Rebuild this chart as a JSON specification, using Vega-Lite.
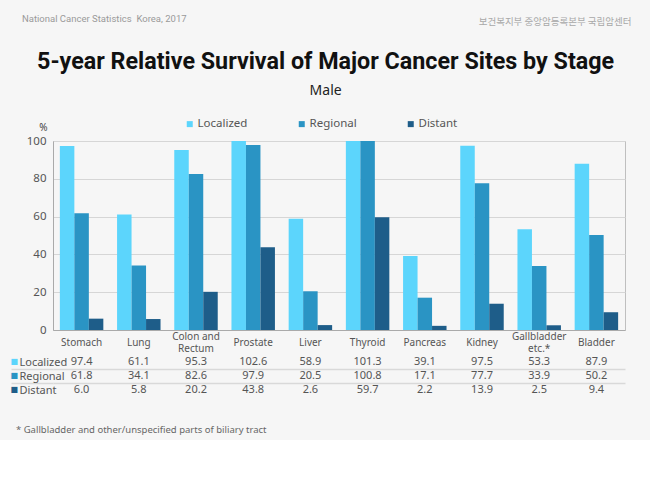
{
  "$schema": "https://vega.github.io/schema/vega-lite/v6.json",
  "background": "#f6f6f6",
  "padding": {"left": 10, "top": 13, "right": 20, "bottom": 5},
  "config": {
    "font": "Noto Sans",
    "view": {"stroke": "#bfbfbf"},
    "concat": {"spacing": 0}
  },
  "title": {
    "text": "보건복지부      중앙암등록본부      국립암센터",
    "anchor": "end",
    "frame": "bounds",
    "font": "Noto Sans CJK KR",
    "fontSize": 9.5,
    "fontWeight": "normal",
    "color": "#a8a8a8",
    "dx": 6,
    "dy": 13,
    "offset": 0
  },
  "datasets": {
    "surv": [
      {"site": "Stomach", "stage": "Localized", "value": 97.4},
      {"site": "Stomach", "stage": "Regional", "value": 61.8},
      {"site": "Stomach", "stage": "Distant", "value": 6.0},
      {"site": "Lung", "stage": "Localized", "value": 61.1},
      {"site": "Lung", "stage": "Regional", "value": 34.1},
      {"site": "Lung", "stage": "Distant", "value": 5.8},
      {"site": "Colon and Rectum", "stage": "Localized", "value": 95.3},
      {"site": "Colon and Rectum", "stage": "Regional", "value": 82.6},
      {"site": "Colon and Rectum", "stage": "Distant", "value": 20.2},
      {"site": "Prostate", "stage": "Localized", "value": 102.6},
      {"site": "Prostate", "stage": "Regional", "value": 97.9},
      {"site": "Prostate", "stage": "Distant", "value": 43.8},
      {"site": "Liver", "stage": "Localized", "value": 58.9},
      {"site": "Liver", "stage": "Regional", "value": 20.5},
      {"site": "Liver", "stage": "Distant", "value": 2.6},
      {"site": "Thyroid", "stage": "Localized", "value": 101.3},
      {"site": "Thyroid", "stage": "Regional", "value": 100.8},
      {"site": "Thyroid", "stage": "Distant", "value": 59.7},
      {"site": "Pancreas", "stage": "Localized", "value": 39.1},
      {"site": "Pancreas", "stage": "Regional", "value": 17.1},
      {"site": "Pancreas", "stage": "Distant", "value": 2.2},
      {"site": "Kidney", "stage": "Localized", "value": 97.5},
      {"site": "Kidney", "stage": "Regional", "value": 77.7},
      {"site": "Kidney", "stage": "Distant", "value": 13.9},
      {"site": "Gallbladder etc.*", "stage": "Localized", "value": 53.3},
      {"site": "Gallbladder etc.*", "stage": "Regional", "value": 33.9},
      {"site": "Gallbladder etc.*", "stage": "Distant", "value": 2.5},
      {"site": "Bladder", "stage": "Localized", "value": 87.9},
      {"site": "Bladder", "stage": "Regional", "value": 50.2},
      {"site": "Bladder", "stage": "Distant", "value": 9.4}
    ]
  },
  "vconcat": [
    {
      "title": {
        "text": "National Cancer Statistics\u2002Korea, 2017",
        "anchor": "start",
        "frame": "bounds",
        "font": "Roboto",
        "fontSize": 9.5,
        "fontWeight": "normal",
        "color": "#9a9a9a",
        "dx": 12,
        "offset": 26
      },
      "spacing": -5,
      "vconcat": [
        {
          "title": {
            "text": "5-year Relative Survival of Major Cancer Sites by Stage",
            "subtitle": "Male",
            "anchor": "middle",
            "frame": "bounds",
            "font": "Roboto",
            "fontSize": 23.3,
            "fontWeight": "bold",
            "color": "#111111",
            "subtitleFont": "Noto Sans",
            "subtitleFontSize": 14,
            "subtitleColor": "#222222",
            "subtitlePadding": 10,
            "offset": 23
          },
          "width": 572,
          "height": 189,
          "data": {"name": "surv"},
          "mark": {"type": "bar"},
          "encoding": {
            "x": {
              "field": "site",
              "type": "nominal",
              "sort": ["Stomach", "Lung", "Colon and Rectum", "Prostate", "Liver", "Thyroid", "Pancreas", "Kidney", "Gallbladder etc.*", "Bladder"],
              "scale": {"paddingInner": 0.24, "paddingOuter": 0.12},
              "axis": {
                "title": null,
                "labelAngle": 0,
                "ticks": false,
                "labelPadding": {"condition": {"test": "datum.value == 'Colon and Rectum' || datum.value == 'Gallbladder etc.*'", "value": 6}, "value": 12},
                "labelBaseline": "middle",
                "labelFontSize": 10,
                "labelLineHeight": 12,
                "labelColor": "#555555",
                "domainColor": "#aaaaaa",
                "labelExpr": "datum.label == 'Colon and Rectum' ? ['Colon and', 'Rectum'] : datum.label == 'Gallbladder etc.*' ? ['Gallbladder', 'etc.*'] : datum.label"
              }
            },
            "xOffset": {"field": "stage", "type": "nominal", "sort": ["Localized", "Regional", "Distant"]},
            "y": {
              "field": "value",
              "type": "quantitative",
              "scale": {"domain": [0, 100], "clamp": true},
              "axis": {
                "title": "%",
                "titleAngle": 0,
                "titleX": -10,
                "titleY": -14,
                "titleAlign": "center",
                "titleBaseline": "middle",
                "titleFontSize": 10,
                "titleFontWeight": "normal",
                "titleColor": "#444444",
                "values": [0, 20, 40, 60, 80, 100],
                "ticks": false,
                "labelPadding": 7,
                "labelFontSize": 11.5,
                "labelColor": "#555555",
                "gridColor": "#d6d6d6",
                "domainColor": "#aaaaaa"
              }
            },
            "color": {
              "field": "stage",
              "type": "nominal",
              "sort": ["Localized", "Regional", "Distant"],
              "scale": {"domain": ["Localized", "Regional", "Distant"], "range": ["#5cd5fc", "#2a94c4", "#1e5d89"]},
              "legend": {
                "title": null,
                "orient": "none",
                "legendX": 131,
                "legendY": -23,
                "direction": "horizontal",
                "symbolType": "square",
                "symbolSize": 36,
                "symbolStrokeWidth": 0,
                "labelFontSize": 11.5,
                "labelColor": "#555555",
                "labelOffset": 2,
                "columnPadding": 48,
                "padding": 0
              }
            }
          }
        },
        {
          "title": {
            "text": "* Gallbladder and other/unspecified parts of biliary tract",
            "orient": "bottom",
            "anchor": "start",
            "frame": "bounds",
            "fontSize": 9.5,
            "fontWeight": "normal",
            "color": "#666666",
            "dx": 6,
            "offset": 28
          },
          "width": 572,
          "height": 42,
          "view": {"stroke": null},
          "data": {"name": "surv"},
          "resolve": {"axis": {"y": "independent"}},
          "layer": [
            {
              "mark": {"type": "text", "fontSize": 11, "color": "#555555"},
              "encoding": {
                "x": {
                  "field": "site",
                  "type": "nominal",
                  "sort": ["Stomach", "Lung", "Colon and Rectum", "Prostate", "Liver", "Thyroid", "Pancreas", "Kidney", "Gallbladder etc.*", "Bladder"],
                  "axis": null
                },
                "y": {
                  "field": "stage",
                  "type": "nominal",
                  "sort": ["Localized", "Regional", "Distant"],
                  "scale": {"type": "band", "paddingInner": 0, "paddingOuter": 0},
                  "axis": {
                    "title": null,
                    "orient": "left",
                    "domain": false,
                    "ticks": true,
                    "tickBand": "extent",
                    "tickSize": 42,
                    "tickColor": "#d9d9d9",
                    "tickWidth": 1.5,
                    "tickOpacity": {"condition": {"test": "datum.value !== 'Localized' && datum.value !== 'Regional'", "value": 0}, "value": 1},
                    "grid": true,
                    "gridColor": "#d9d9d9",
                    "gridWidth": 1.5,
                    "gridOpacity": {"condition": {"test": "datum.value !== 'Localized' && datum.value !== 'Regional'", "value": 0}, "value": 1},
                    "labelAlign": "left",
                    "labelPadding": -8,
                    "labelFontSize": 11,
                    "labelColor": "#555555"
                  }
                },
                "text": {"field": "value", "type": "quantitative", "format": ".1f"}
              }
            },
            {
              "mark": {"type": "text", "opacity": 0},
              "encoding": {
                "x": {
                  "field": "site",
                  "type": "nominal",
                  "sort": ["Stomach", "Lung", "Colon and Rectum", "Prostate", "Liver", "Thyroid", "Pancreas", "Kidney", "Gallbladder etc.*", "Bladder"],
                  "axis": null
                },
                "y": {
                  "field": "stage",
                  "type": "nominal",
                  "sort": ["Localized", "Regional", "Distant"],
                  "scale": {"type": "band", "paddingInner": 0, "paddingOuter": 0},
                  "axis": {
                    "title": null,
                    "orient": "left",
                    "domain": false,
                    "ticks": false,
                    "grid": false,
                    "labelExpr": "'■'",
                    "labelAlign": "left",
                    "labelPadding": 43,
                    "labelFontSize": 8,
                    "labelFont": "DejaVu Sans",
                    "labelColor": {"condition": [{"test": "datum.value === 'Localized'", "value": "#5cd5fc"}, {"test": "datum.value === 'Regional'", "value": "#2a94c4"}], "value": "#1e5d89"}
                  }
                },
                "text": {"field": "value", "type": "quantitative", "format": ".1f"}
              }
            }
          ]
        }
      ]
    }
  ]
}
